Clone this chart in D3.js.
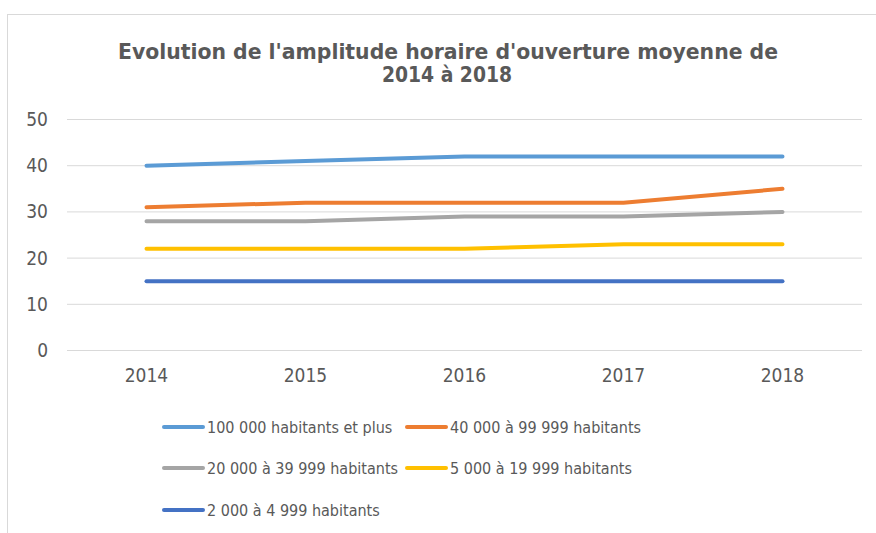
<!DOCTYPE html>
<html>
<head>
<meta charset="utf-8">
<script src="https://cdn.jsdelivr.net/npm/d3@7"></script>
<style>
  body { margin: 0; background: #fff; }
  text { font-family: "DejaVu Sans Condensed", "DejaVu Sans", sans-serif; }
</style>
</head>
<body>
<div id="chart"></div>
<script>
// data
let years = ["2014", "2015", "2016", "2017", "2018"]
let seriesNames = ["100 000 habitants et plus", "40 000 à 99 999 habitants",
                   "20 000 à 39 999 habitants", "5 000 à 19 999 habitants",
                   "2 000 à 4 999 habitants"]
let seriesColors = ["#5B9BD5", "#ED7D31", "#A5A5A5", "#FFC000", "#4472C4"]
let v100k = [40, 41, 42, 42, 42]
let v40k = [31, 32, 32, 32, 35]
let v20k = [28, 28, 29, 29, 30]
let v5k = [22, 22, 22, 23, 23]
let v2k = [15, 15, 15, 15, 15]
let yTicks = [0, 10, 20, 30, 40, 50]

let seriesValues = [v100k, v40k, v20k, v5k, v2k]

let W = 876, H = 533
let svg = d3.select("#chart").append("svg")
  .attr("width", W)
  .attr("height", H)

// chart area border
svg.append("rect")
  .attr("x", 7.5).attr("y", 14.5)
  .attr("width", W).attr("height", H)
  .attr("fill", "#fff")
  .attr("stroke", "#d9d9d9")

// title (Arial Narrow is not around, so fit Liberation Sans to the width)
let title = svg.append("text")
  .attr("text-anchor", "middle")
  .attr("fill", "#595959")
  .attr("font-size", 22)
  .attr("font-weight", "bold")
  .attr("font-family", "Liberation Sans, Arial, sans-serif")
title.append("tspan").attr("x", 448).attr("y", 59)
  .attr("textLength", 660).attr("lengthAdjust", "spacingAndGlyphs")
  .text("Evolution de l'amplitude horaire d'ouverture moyenne de")
title.append("tspan").attr("x", 447).attr("y", 82)
  .attr("textLength", 130).attr("lengthAdjust", "spacingAndGlyphs")
  .text("2014 à 2018")

let x = d3.scaleBand().domain(years).range([67, 862])
let y = d3.scaleLinear().domain([0, 50]).range([350.5, 119.5])

// gridlines
svg.append("g")
  .selectAll("line")
  .data(yTicks)
  .enter()
  .append("line")
  .attr("x1", 67).attr("x2", 862)
  .attr("y1", d => y(d)).attr("y2", d => y(d))
  .attr("stroke", "#d9d9d9")
  .attr("stroke-width", 1)

// y axis labels
let yAxis = d3.axisLeft(y).tickValues(yTicks).tickSize(0).tickPadding(0)
svg.append("g")
  .attr("transform", "translate(48,0)")
  .call(yAxis)
  .call(g => g.select(".domain").remove())
  .selectAll("text")
  .attr("fill", "#595959")
  .attr("font-size", 19)
  .attr("font-family", "DejaVu Sans Condensed, DejaVu Sans, sans-serif")

// x axis labels
let xAxis = d3.axisBottom(x).tickSize(0).tickPadding(0)
svg.append("g")
  .attr("transform", "translate(0,368)")
  .call(xAxis)
  .call(g => g.select(".domain").remove())
  .selectAll("text")
  .attr("fill", "#595959")
  .attr("font-size", 19)
  .attr("font-family", "DejaVu Sans Condensed, DejaVu Sans, sans-serif")

// lines
let line = d3.line()
  .x((d, i) => x(years[i]) + x.bandwidth() / 2)
  .y(d => y(d))

svg.append("g")
  .selectAll("path")
  .data(seriesValues)
  .enter()
  .append("path")
  .attr("d", d => line(d))
  .attr("fill", "none")
  .attr("stroke", (d, i) => seriesColors[i])
  .attr("stroke-width", 4)
  .attr("stroke-linecap", "round")
  .attr("stroke-linejoin", "round")

// legend
let legendPos = [[164, 427], [407, 427], [164, 468], [407, 468], [164, 510]]
let legend = svg.append("g")
  .selectAll("g")
  .data(seriesNames)
  .enter()
  .append("g")
  .attr("transform", (d, i) => `translate(${legendPos[i][0]},${legendPos[i][1]})`)

legend.append("line")
  .attr("x1", 0).attr("x2", 39)
  .attr("stroke", (d, i) => seriesColors[i])
  .attr("stroke-width", 4)
  .attr("stroke-linecap", "round")

legend.append("text")
  .attr("x", 43)
  .attr("dy", "0.35em")
  .attr("fill", "#595959")
  .attr("font-size", 16)
  .attr("font-family", "DejaVu Sans Condensed, DejaVu Sans, sans-serif")
  .text(d => d)
</script>
</body>
</html>
